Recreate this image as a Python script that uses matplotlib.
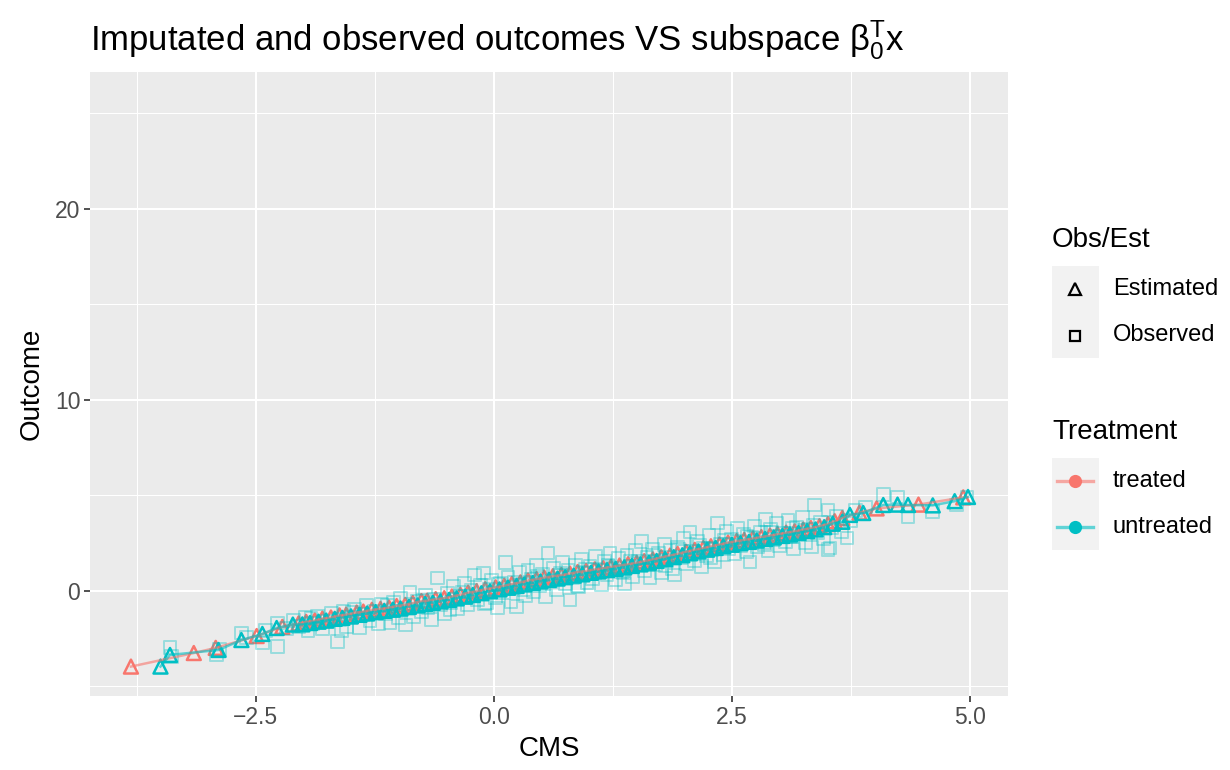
import matplotlib
matplotlib.use("Agg")
import matplotlib.pyplot as plt
from matplotlib.lines import Line2D
from matplotlib.patches import Rectangle

plt.rcParams["font.family"] = ["Liberation Sans", "DejaVu Sans"]
plt.rcParams["mathtext.fontset"] = "custom"
plt.rcParams["mathtext.rm"] = "Liberation Sans"
plt.rcParams["mathtext.it"] = "Liberation Sans:italic"

RED = "#F8766D"
CYAN = "#00BFC4"

# ── Estimated outcomes (triangles) ───────────────────────────────────────────
treated_x = [-3.81, -3.15, -2.92, -2.49, -2.22, -2.05, -1.97, -1.88, -1.80, -1.71,
             -1.62, -1.55, -1.44, -1.37, -1.28, -1.19, -1.10, -1.02, -0.93, -0.85,
             -0.76, -0.70, -0.61, -0.52, -0.44, -0.35, -0.27, -0.18, -0.09, 0.02,
             0.11, 0.19, 0.28, 0.36, 0.45, 0.53, 0.62, 0.71, 0.80, 0.88,
             0.97, 1.06, 1.15, 1.23, 1.32, 1.41, 1.50, 1.58, 1.67, 1.76,
             1.85, 1.93, 2.02, 2.11, 2.20, 2.28, 2.37, 2.46, 2.55, 2.63,
             2.72, 2.81, 2.90, 2.98, 3.07, 3.16, 3.25, 3.33, 3.42, 3.51,
             3.58, 3.66, 3.84, 4.02, 4.46, 4.93]
treated_y = [-3.96, -3.25, -2.98, -2.36, -1.88, -1.70, -1.62, -1.55, -1.45, -1.39,
             -1.28, -1.24, -1.13, -1.08, -0.99, -0.94, -0.87, -0.79, -0.73, -0.63,
             -0.53, -0.51, -0.43, -0.38, -0.29, -0.20, -0.09, -0.01, 0.09, 0.19,
             0.27, 0.37, 0.45, 0.55, 0.62, 0.70, 0.77, 0.83, 0.91, 0.99,
             1.05, 1.13, 1.19, 1.26, 1.33, 1.40, 1.47, 1.56, 1.65, 1.76,
             1.85, 1.94, 2.05, 2.15, 2.24, 2.34, 2.43, 2.53, 2.61, 2.67,
             2.75, 2.82, 2.90, 2.97, 3.05, 3.12, 3.21, 3.29, 3.39, 3.50,
             3.65, 3.82, 4.10, 4.32, 4.52, 4.90]

untreated_x = [-3.50, -3.40, -2.89, -2.65, -2.43, -2.28, -2.11, -2.01, -1.93, -1.84,
               -1.76, -1.67, -1.59, -1.50, -1.41, -1.33, -1.24, -1.15, -1.06, -0.98,
               -0.89, -0.80, -0.72, -0.64, -0.56, -0.47, -0.39, -0.30, -0.22, -0.13,
               -0.04, 0.06, 0.15, 0.24, 0.32, 0.41, 0.49, 0.58, 0.67, 0.75,
               0.84, 0.93, 1.02, 1.10, 1.19, 1.28, 1.37, 1.45, 1.54, 1.63,
               1.71, 1.80, 1.89, 1.98, 2.06, 2.15, 2.24, 2.33, 2.41, 2.50,
               2.59, 2.68, 2.76, 2.85, 2.94, 3.03, 3.11, 3.20, 3.29, 3.38,
               3.47, 3.56, 3.66, 3.74, 3.88, 4.09, 4.24, 4.35, 4.61, 4.84, 4.98]
untreated_y = [-3.96, -3.35, -3.09, -2.57, -2.25, -1.94, -1.76, -1.75, -1.68, -1.61,
               -1.55, -1.46, -1.41, -1.33, -1.25, -1.18, -1.11, -1.04, -0.98, -0.92,
               -0.83, -0.76, -0.68, -0.62, -0.55, -0.47, -0.39, -0.30, -0.21, -0.12,
               -0.02, 0.08, 0.17, 0.26, 0.34, 0.42, 0.50, 0.58, 0.65, 0.72,
               0.80, 0.87, 0.95, 1.02, 1.09, 1.16, 1.23, 1.31, 1.39, 1.48,
               1.57, 1.67, 1.77, 1.87, 1.97, 2.07, 2.16, 2.25, 2.34, 2.42,
               2.50, 2.57, 2.64, 2.72, 2.80, 2.88, 2.96, 3.04, 3.13, 3.22,
               3.34, 3.52, 3.62, 3.98, 4.08, 4.50, 4.52, 4.50, 4.48, 4.70, 4.92]

# ── Observed outcomes (squares) ──────────────────────────────────────────────
observed_x = [-3.40, -3.38, -2.91, -2.88, -2.65, -2.60, -2.43, -2.40, -2.27, -2.27,
              -2.18, -2.10, -2.05, -1.98, -1.95, -1.90, -1.85, -1.80, -1.75, -1.70,
              -1.64, -1.62, -1.58, -1.55, -1.50, -1.46, -1.41, -1.38, -1.34, -1.30,
              -1.25, -1.21, -1.18, -1.14, -1.09, -1.05, -1.02, -0.98, -0.93, -0.90,
              -0.88, -0.84, -0.80, -0.76, -0.72, -0.69, -0.65, -0.62, -0.59, -0.56,
              -0.52, -0.49, -0.45, -0.42, -0.38, -0.35, -0.31, -0.28, -0.24, -0.20,
              -0.17, -0.14, -0.11, -0.08, -0.05, -0.02, 0.02, 0.04, 0.07, 0.10,
              0.12, 0.15, 0.18, 0.21, 0.24, 0.27, 0.30, 0.33, 0.36, 0.39,
              0.42, 0.45, 0.48, 0.51, 0.54, 0.57, 0.60, 0.63, 0.66, 0.69,
              0.72, 0.75, 0.78, 0.80, 0.83, 0.86, 0.89, 0.92, 0.95, 0.98,
              1.01, 1.04, 1.07, 1.10, 1.13, 1.16, 1.19, 1.22, 1.25, 1.28,
              1.31, 1.34, 1.37, 1.40, 1.43, 1.46, 1.49, 1.52, 1.55, 1.58,
              1.61, 1.64, 1.67, 1.70, 1.73, 1.76, 1.79, 1.82, 1.85, 1.88,
              1.90, 1.93, 1.96, 1.99, 2.02, 2.06, 2.08, 2.11, 2.14, 2.18,
              2.20, 2.23, 2.26, 2.29, 2.32, 2.35, 2.38, 2.41, 2.44, 2.47,
              2.50, 2.53, 2.56, 2.59, 2.62, 2.65, 2.69, 2.71, 2.74, 2.77,
              2.80, 2.83, 2.85, 2.88, 2.91, 2.94, 2.97, 3.00, 3.03, 3.06,
              3.09, 3.12, 3.15, 3.18, 3.21, 3.24, 3.27, 3.30, 3.34, 3.37,
              3.40, 3.43, 3.46, 3.51, 3.51, 3.53, 3.55, 3.60, 3.65, 3.71,
              3.75, 3.80, 3.90, 4.09, 4.24, 4.35, 4.61, 4.86, 4.97,
              -1.92, -1.48, -1.12, -0.74, -0.33, 0.05, 0.22, 0.46, 0.70, 0.96,
              1.20, 1.44, 1.68, 1.94, 2.16, 2.42, 2.66, 2.92, 3.14, 3.36,
              -1.60, -1.00, -0.46, -0.10, 0.32, 0.88, 1.36, 1.80, 2.28, 2.84]
observed_y = [-2.98, -3.45, -3.35, -3.05, -2.20, -2.45, -2.72, -2.05, -2.90, -1.68,
              -1.95, -1.55, -1.85, -1.40, -2.05, -1.70, -1.35, -1.95, -1.60, -1.20,
              -2.64, -1.50, -1.05, -1.85, -1.40, -0.95, -1.94, -1.25, -0.78, -1.55,
              -1.05, -1.70, -0.70, -1.20, -1.68, -0.60, -1.05, -0.40, -1.78, -0.95,
              -0.05, -1.35, -0.55, -1.10, -0.25, -0.85, -1.50, -0.45, 0.68, -0.70,
              -1.20, -0.15, -0.60, 0.25, -0.95, -0.30, 0.40, -0.70, 0.05, 0.84,
              -0.45, 0.30, 0.94, -0.60, 0.10, 0.55, -0.35, -0.89, 0.40, -0.10,
              1.47, 0.70, -0.55, 0.20, -0.83, 0.95, 0.35, -0.25, 1.10, 0.60,
              -0.05, 1.35, 0.30, 0.85, -0.30, 1.99, 0.50, 1.20, 0.05, 0.80,
              1.50, 0.40, 1.05, -0.47, 0.70, 1.35, 0.25, 1.65, 0.90, 0.45,
              1.30, 0.65, 1.80, 1.05, 0.35, 1.55, 0.85, 1.95, 1.20, 0.60,
              1.70, 1.00, 0.40, 1.85, 1.30, 0.75, 2.10, 1.55, 2.57, 1.05,
              1.75, 0.70, 2.20, 1.40, 1.95, 0.95, 2.45, 1.60, 2.10, 1.15,
              0.84, 2.30, 1.75, 2.75, 1.45, 3.09, 2.05, 1.60, 2.60, 1.26,
              2.25, 1.85, 2.90, 2.15, 1.55, 3.56, 2.45, 1.90, 3.10, 2.20,
              2.70, 1.95, 3.25, 2.40, 2.95, 2.05, 1.52, 2.80, 3.40, 2.30,
              3.05, 2.55, 3.72, 2.10, 3.20, 2.70, 3.55, 2.35, 3.00, 2.60,
              3.70, 2.85, 2.20, 3.35, 2.95, 3.85, 2.55, 3.20, 2.30, 4.50,
              3.05, 3.60, 2.75, 4.24, 2.15, 2.25, 3.30, 3.90, 3.10, 2.77,
              3.70, 4.20, 4.40, 5.03, 4.92, 3.87, 4.14, 4.50, 4.92,
              -1.45, -1.10, -0.75, -0.50, -0.05, 0.35, 0.45, 0.75, 0.90, 1.15,
              1.35, 1.55, 1.85, 2.15, 2.40, 2.65, 2.85, 3.05, 3.25, 3.45,
              -2.05, -1.40, -1.00, -0.65, 0.05, 0.30, 0.95, 1.35, 1.75, 2.45]

# ── Figure and panel ─────────────────────────────────────────────────────────
W, H = 1230, 770
fig = plt.figure(figsize=(W / 100, H / 100), dpi=100)
ax = fig.add_axes([90 / W, 1 - 696 / H, (1008 - 90) / W, (696 - 72) / H])
ax.set_facecolor("#EBEBEB")
for s in ax.spines.values():
    s.set_visible(False)

ax.set_xlim(-4.24, 5.40)
ax.set_ylim(-5.50, 27.17)
ax.set_xticks([-2.5, 0.0, 2.5, 5.0])
ax.set_xticklabels(["\u22122.5", "0.0", "2.5", "5.0"])
ax.set_yticks([0, 10, 20])
ax.set_xticks([-3.75, -1.25, 1.25, 3.75], minor=True)
ax.set_yticks([-5, 5, 15, 25], minor=True)
ax.grid(which="major", color="white", linewidth=1.5)
ax.grid(which="minor", color="white", linewidth=0.75)
ax.set_axisbelow(True)
ax.tick_params(which="major", length=4, width=1.2, color="#333333",
               labelsize=16.5, labelcolor="#4D4D4D", pad=3)
ax.tick_params(which="minor", length=0)

# estimated triangles
ax.scatter(treated_x, treated_y, marker="^", s=100, facecolors="none",
           edgecolors=RED, linewidths=1.8, zorder=2)
ax.scatter(untreated_x, untreated_y, marker="^", s=100, facecolors="none",
           edgecolors=CYAN, linewidths=1.8, zorder=2)
# observed squares
ax.scatter(observed_x, observed_y, marker="s", s=85, facecolors="none",
           edgecolors=CYAN, linewidths=1.4, alpha=0.35, zorder=3)
# lines through the estimated curves
ax.plot(treated_x, treated_y, color=RED, alpha=0.6, linewidth=1.8, zorder=4)
ax.plot(untreated_x, untreated_y, color=CYAN, alpha=0.6, linewidth=1.8, zorder=4)

ax.set_xlabel("CMS", fontsize=20, labelpad=5)
ax.set_ylabel("Outcome", fontsize=20, labelpad=7)

fig.text(90 / W, 1 - 50 / H,
         r"Imputated and observed outcomes VS subspace $\mathregular{\beta_0^Tx}$",
         fontsize=25, ha="left", va="baseline")

# ── Legends drawn by hand, ggplot style ──────────────────────────────────────
def fx(px):
    return px / W


def fy(py):
    return 1 - py / H


fig.text(fx(1052), fy(240), "Obs/Est", fontsize=20, va="center", ha="left")
fig.add_artist(Rectangle((fx(1052), fy(358)), fx(47), 92 / H,
                         transform=fig.transFigure, facecolor="#F2F2F2",
                         edgecolor="none"))
fig.add_artist(Line2D([fx(1075)], [fy(289)], marker="^", markersize=8,
                      markerfacecolor="none", markeredgecolor="black",
                      markeredgewidth=1.6, transform=fig.transFigure))
fig.add_artist(Line2D([fx(1075)], [fy(336)], marker="s", markersize=7,
                      markerfacecolor="none", markeredgecolor="black",
                      markeredgewidth=1.6, transform=fig.transFigure))
fig.text(fx(1113), fy(289), "Estimated", fontsize=17, va="center", ha="left")
fig.text(fx(1113), fy(335), "Observed", fontsize=17, va="center", ha="left")

fig.text(fx(1052), fy(432), "Treatment", fontsize=20, va="center", ha="left")
fig.add_artist(Rectangle((fx(1052), fy(550)), fx(47), 92 / H,
                         transform=fig.transFigure, facecolor="#F2F2F2",
                         edgecolor="none"))
for py, col, lab in [(481, RED, "treated"), (527, CYAN, "untreated")]:
    fig.add_artist(Line2D([fx(1057), fx(1093)], [fy(py), fy(py)], color=col,
                          alpha=0.6, linewidth=2.4, transform=fig.transFigure))
    fig.add_artist(Line2D([fx(1075)], [fy(py)], marker="o", markersize=9.5,
                          color=col, markeredgewidth=0, transform=fig.transFigure))
    fig.text(fx(1113), fy(py), lab, fontsize=17, va="center", ha="left")

fig.savefig("out.png", dpi=100)
